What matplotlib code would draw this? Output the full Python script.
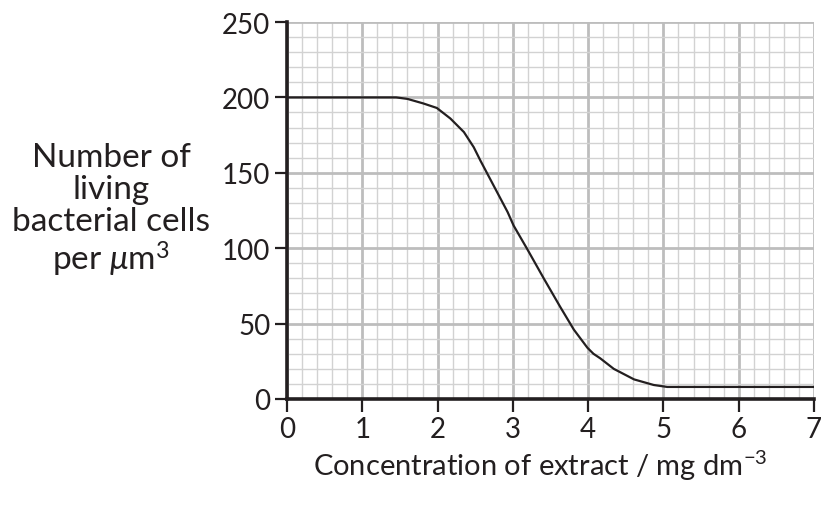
import numpy as np
import matplotlib
matplotlib.use("Agg")
import matplotlib.pyplot as plt
from matplotlib.ticker import MultipleLocator

plt.rcParams["font.family"] = ["Lato", "DejaVu Sans"]
plt.rcParams["mathtext.fontset"] = "custom"
plt.rcParams["mathtext.rm"] = "Lato"
plt.rcParams["mathtext.it"] = "Lato:italic"

# curve
conc = [0.0, 1.0, 1.45, 1.6, 1.81, 1.99, 2.17, 2.35, 2.48, 2.57, 2.75,
        2.93, 3.01, 3.19, 3.41, 3.63, 3.81, 3.9, 3.99, 4.07, 4.16, 4.34,
        4.61, 4.87, 5.05, 6.0, 7.0]
cells = [200, 200, 200, 199, 196, 193, 186, 177, 167, 158, 141,
         124, 115, 99.5, 80, 61, 46, 40, 34, 30, 27, 20,
         13, 9.3, 8, 8, 8]

xticks = [0, 1, 2, 3, 4, 5, 6, 7]
yticks = [0, 50, 100, 150, 200, 250]

ink = "#231f20"
fig = plt.figure(figsize=(8.23, 5.06), dpi=100)
ax = fig.add_axes([287 / 823, 1 - 400 / 506, 527 / 823, 377 / 506])

ax.plot(conc, cells, color=ink, lw=1.6, solid_joinstyle="round", zorder=3)

ax.set_xlim(0, 7)
ax.set_ylim(0, 250)
ax.set_xticks(xticks)
ax.set_yticks(yticks)
ax.xaxis.set_minor_locator(MultipleLocator(0.2))
ax.yaxis.set_minor_locator(MultipleLocator(10))
ax.grid(which="minor", color="#d2d2d2", lw=1.0)
ax.grid(which="major", color="#bdbdbd", lw=2.0)
ax.set_axisbelow(True)

for s in ["top", "right"]:
    ax.spines[s].set_visible(False)
for s in ["left", "bottom"]:
    ax.spines[s].set_color(ink)
    ax.spines[s].set_linewidth(2.6)

ax.tick_params(which="major", length=9, width=1.6, color=ink,
               labelsize=20, labelcolor=ink, pad=3)
ax.tick_params(which="minor", length=0)

fig.text(111 / 823, 1 - 211 / 506,
         "Number of\nliving\nbacterial cells\nper $\\mathit{\\mu}$m$^{3}$",
         ha="center", va="center", multialignment="center",
         fontsize=24, color=ink, linespacing=1.08)
fig.text(540 / 823, 1 - 466 / 506,
         "Concentration of extract / mg dm$^{-3}$",
         ha="center", va="center", fontsize=21, color=ink)

fig.savefig("out.png", dpi=100, facecolor="white")
